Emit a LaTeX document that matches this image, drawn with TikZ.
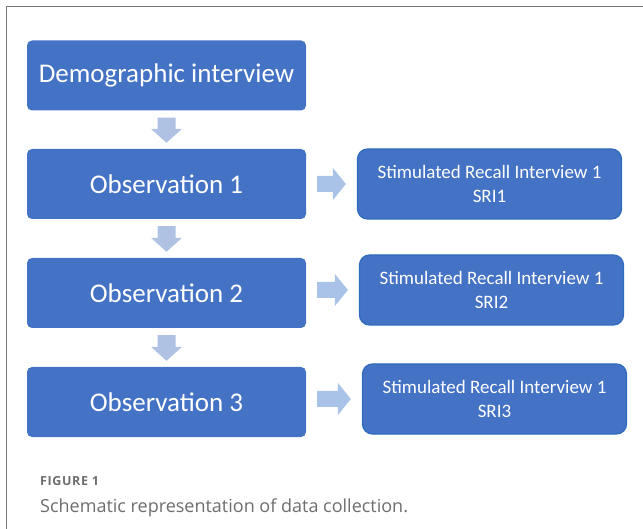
\documentclass[tikz,border=0pt]{standalone}
\usepackage{fontspec}
\setmainfont{Carlito}
\newfontfamily\capfont{Open Sans}
\newfontfamily\capbold[LetterSpace=5]{Open Sans}
\usetikzlibrary{positioning,calc}
\definecolor{boxblue}{HTML}{4472C4}
\definecolor{boxedge}{HTML}{2F6BBE}
\definecolor{arrowblue}{HTML}{B0C2E4}
\definecolor{arrowright}{HTML}{A9C3E8}
\definecolor{framegray}{HTML}{777777}
\definecolor{capgray}{HTML}{6E6E6E}
\tikzset{
  mainbox/.style={fill=boxblue, rounded corners=5pt, text=white, font=\fontsize{27}{32}\selectfont, minimum width=279pt, minimum height=70pt, inner sep=0pt},
  sribox/.style={fill=boxblue, draw=boxedge, line width=1.2pt, rounded corners=10pt, text=white, font=\fontsize{19}{24}\selectfont, minimum width=264pt, minimum height=70pt, inner sep=0pt, align=center},
  downarrow/.style={fill=arrowblue},
  rightarrow/.style={fill=arrowright},
}
\begin{document}
\begin{tikzpicture}[x=1pt,y=-1pt]
\useasboundingbox (0,0) rectangle (643,529);
\fill[white] (0,0) rectangle (643,529);
\draw[framegray, line width=1pt] (6.5,529) -- (6.5,6.5) -- (643,6.5);

\node[mainbox] (demo) at (166.5,75.5) {Demographic interview};
\node[mainbox] (obs1) at (166.5,184) {Observation 1};
\node[mainbox] (obs2) at (166.5,293) {Observation 2};
\node[mainbox] (obs3) at (166.5,402) {Observation 3};

\node[sribox] (sri1) at (489.5,184) {Stimulated Recall Interview 1\\SRI1};
\node[sribox] (sri2) at (491.5,290) {Stimulated Recall Interview 1\\SRI2};
\node[sribox] (sri3) at (494.5,399) {Stimulated Recall Interview 1\\SRI3};

% down arrows
\foreach \a/\b in {demo/obs1, obs1/obs2, obs2/obs3}{
  \path (\a.south) ++(0,7) coordinate (s) (\b.north) ++(0,-6) coordinate (e);
  \fill[downarrow] ($(s)+(-9,0)$) -- ($(s)+(9,0)$) -- ($(e)+(9,-14)$) -- ($(e)+(15.5,-14)$) -- (e) -- ($(e)+(-15.5,-14)$) -- ($(e)+(-9,-14)$) -- cycle;
}
% right arrows
\foreach \a/\b in {obs1/sri1, obs2/sri2, obs3/sri3}{
  \path (\a.east |- \b.west) ++(11,0) coordinate (s) (\b.west) ++(-11,0) coordinate (e);
  \fill[rightarrow] ($(s)+(0,-8)$) -- ($(e)+(-13,-8)$) -- ($(e)+(-13,-16)$) -- (e) -- ($(e)+(-13,16)$) -- ($(e)+(-13,8)$) -- ($(s)+(0,8)$) -- cycle;
}

\node[anchor=base west, text=capgray, font=\capbold\fontsize{12.5}{14}\selectfont\bfseries, inner sep=0pt] (figlab) at (40,485) {FIGURE 1};
\node[anchor=base west, text=capgray, font=\capfont\fontsize{18}{21}\selectfont, inner sep=0pt] (caption) at (40,512) {Schematic representation of data collection.};
\end{tikzpicture}
\end{document}
